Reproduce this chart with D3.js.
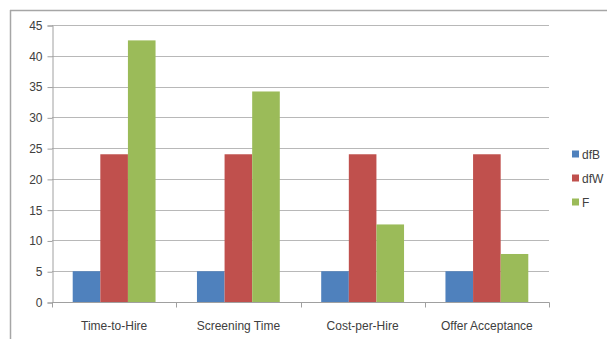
<!DOCTYPE html>
<html>
<head>
<meta charset="utf-8">
<script src="https://cdn.jsdelivr.net/npm/d3@7"></script>
<style>
  html, body { margin: 0; padding: 0; background: #fff; }
  svg { display: block; font-family: "Liberation Sans", Arial, sans-serif; }
</style>
</head>
<body>
<svg id="chart" width="607" height="339"></svg>
<script>
// Categories and series values
const categories = ["Time-to-Hire", "Screening Time", "Cost-per-Hire", "Offer Acceptance"];
const seriesNames = ["dfB", "dfW", "F"];
const dfB = [5, 5, 5, 5];
const dfW = [24, 24, 24, 24];
const F = [42.5, 34.2, 12.6, 7.8];
const yTicks = [0, 5, 10, 15, 20, 25, 30, 35, 40, 45];
const colors = ["#4f81bd", "#c0504d", "#9bbb59"];

const seriesValues = [dfB, dfW, F];
const rows = categories.map((c, i) => ({
  category: c,
  values: seriesNames.map((s, j) => ({ key: s, value: seriesValues[j][i] }))
}));

const svg = d3.select("#chart");

// Chart frame: top and left edges only
svg.append("line").attr("x1", 10).attr("x2", 607).attr("y1", 10.5).attr("y2", 10.5)
  .attr("stroke", "#a6a6a6").attr("stroke-width", 1.5);
svg.append("line").attr("x1", 10.5).attr("x2", 10.5).attr("y1", 10).attr("y2", 339)
  .attr("stroke", "#a6a6a6").attr("stroke-width", 1.5);

const plot = { left: 52, right: 549, top: 25, bottom: 302 };

const x0 = d3.scaleBand().domain(categories).range([plot.left, plot.right]).paddingInner(0).paddingOuter(0);
// gap width 150%: three bars take 3 / 4.5 of each band
const x1 = d3.scaleBand().domain(seriesNames).range([0, x0.bandwidth() * 3 / 4.5]);
const groupOffset = (x0.bandwidth() - x0.bandwidth() * 3 / 4.5) / 2;
const y = d3.scaleLinear().domain([0, 45]).range([plot.bottom, plot.top]);

// Gridlines
svg.append("g").selectAll("line").data(yTicks.filter(t => t > 0)).join("line")
  .attr("x1", plot.left).attr("x2", plot.right)
  .attr("y1", d => Math.round(y(d)) + 0.5).attr("y2", d => Math.round(y(d)) + 0.5)
  .attr("stroke", "#b8b8b8").attr("stroke-width", 1);

// Bars
svg.append("g").selectAll("g").data(rows).join("g")
  .attr("transform", d => `translate(${x0(d.category) + groupOffset},0)`)
  .selectAll("rect").data(d => d.values).join("rect")
  .attr("x", d => x1(d.key))
  .attr("width", x1.bandwidth())
  .attr("y", d => y(d.value))
  .attr("height", d => y(0) - y(d.value))
  .attr("fill", (d, i) => colors[i]);

// Y axis
const yAxis = d3.axisLeft(y).tickValues(yTicks).tickSize(5).tickPadding(5).tickFormat(d3.format("d"));
const gy = svg.append("g").attr("transform", `translate(${plot.left + 0.5},0.5)`).call(yAxis);
gy.select(".domain").attr("stroke", "#a0a0a0");
gy.selectAll(".tick line").attr("stroke", "#a0a0a0");
gy.selectAll(".tick text").attr("font-size", 12).attr("fill", "#404040")
  .attr("font-family", "Liberation Sans, Arial, sans-serif");

// X axis with ticks at category boundaries
const gx = svg.append("g").attr("transform", `translate(0,${plot.bottom + 0.5})`);
gx.append("line").attr("x1", plot.left).attr("x2", plot.right + 0.5)
  .attr("stroke", "#a0a0a0");
const bounds = categories.map(c => x0(c)).concat([plot.right]);
gx.selectAll("line.b").data(bounds).join("line").attr("class", "b")
  .attr("x1", d => Math.round(d) + 0.5).attr("x2", d => Math.round(d) + 0.5)
  .attr("y1", 0).attr("y2", 5).attr("stroke", "#a0a0a0");
gx.selectAll("text").data(categories).join("text")
  .attr("x", d => x0(d) + x0.bandwidth() / 2)
  .attr("y", 27)
  .attr("text-anchor", "middle")
  .attr("font-size", 12).attr("fill", "#404040")
  .text(d => d);

// Legend
const legend = svg.append("g").selectAll("g").data(seriesNames).join("g")
  .attr("transform", (d, i) => `translate(572,${154 + i * 24})`);
legend.append("rect").attr("x", 0).attr("y", -3.5).attr("width", 7).attr("height", 7)
  .attr("fill", (d, i) => colors[i]);
legend.append("text").attr("x", 10).attr("y", 4.5)
  .attr("font-size", 12).attr("fill", "#404040").text(d => d);
</script>
</body>
</html>
